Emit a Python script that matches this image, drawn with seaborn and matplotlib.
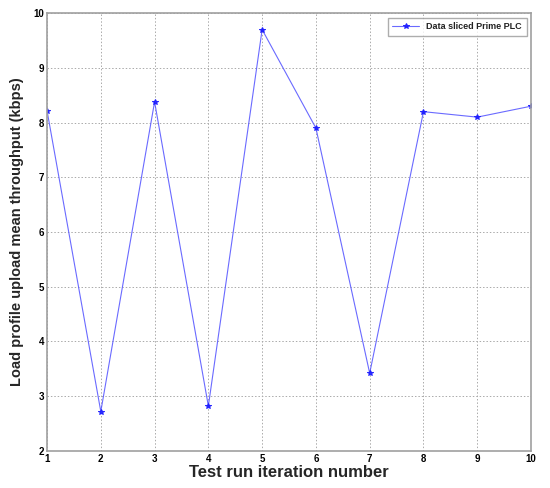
import pandas as pd
import matplotlib
matplotlib.use("Agg")
import matplotlib.pyplot as plt
import seaborn as sns

# Data
iterations = [1, 2, 3, 4, 5, 6, 7, 8, 9, 10]
throughput = [8.22, 2.72, 8.38, 2.82, 9.70, 7.90, 3.42, 8.20, 8.10, 8.30]

df = pd.DataFrame({"iteration": iterations, "throughput": throughput})

sns.set_style("white")
plt.rcParams["font.family"] = ["Liberation Sans", "DejaVu Sans"]

fig = plt.figure(figsize=(5.5, 4.88), dpi=100)
ax = fig.add_axes([0.0855, 0.076, 0.88, 0.897])

sns.lineplot(data=df, x="iteration", y="throughput", ax=ax,
             color="#5a5aff", linewidth=0.8, alpha=0.9,
             marker="*", markersize=4, markeredgecolor="#1a1aff",
             markerfacecolor="#1a1aff", label="Data sliced Prime PLC")

ax.set_xlim(1, 10)
ax.set_ylim(2, 10)
ax.set_xticks(range(1, 11))
ax.set_yticks(range(2, 11))
ax.grid(True, color="#aaaaaa", linestyle=(0, (1.5, 2)), linewidth=0.7)

for s in ax.spines.values():
    s.set_color("#a0a0a0")
    s.set_linewidth(1.2)

ax.tick_params(direction="in", length=3, colors="#333333", labelsize=7,
               pad=2, width=0.8)
for lab in ax.get_xticklabels() + ax.get_yticklabels():
    lab.set_fontweight("bold")
    lab.set_color("black")

ax.set_xlabel("Test run iteration number", fontsize=12, fontweight="bold", labelpad=1)
ax.set_ylabel("Load profile upload mean throughput (kbps)", fontsize=10.5,
              fontweight="bold", labelpad=7)

leg = ax.legend(loc="upper right", fontsize=6.5, frameon=True, fancybox=False,
                borderpad=0.5, handlelength=3)
leg.get_frame().set_edgecolor("#999999")
for t in leg.get_texts():
    t.set_fontweight("bold")
    t.set_color("#222222")

plt.savefig("out.png", dpi=100)
